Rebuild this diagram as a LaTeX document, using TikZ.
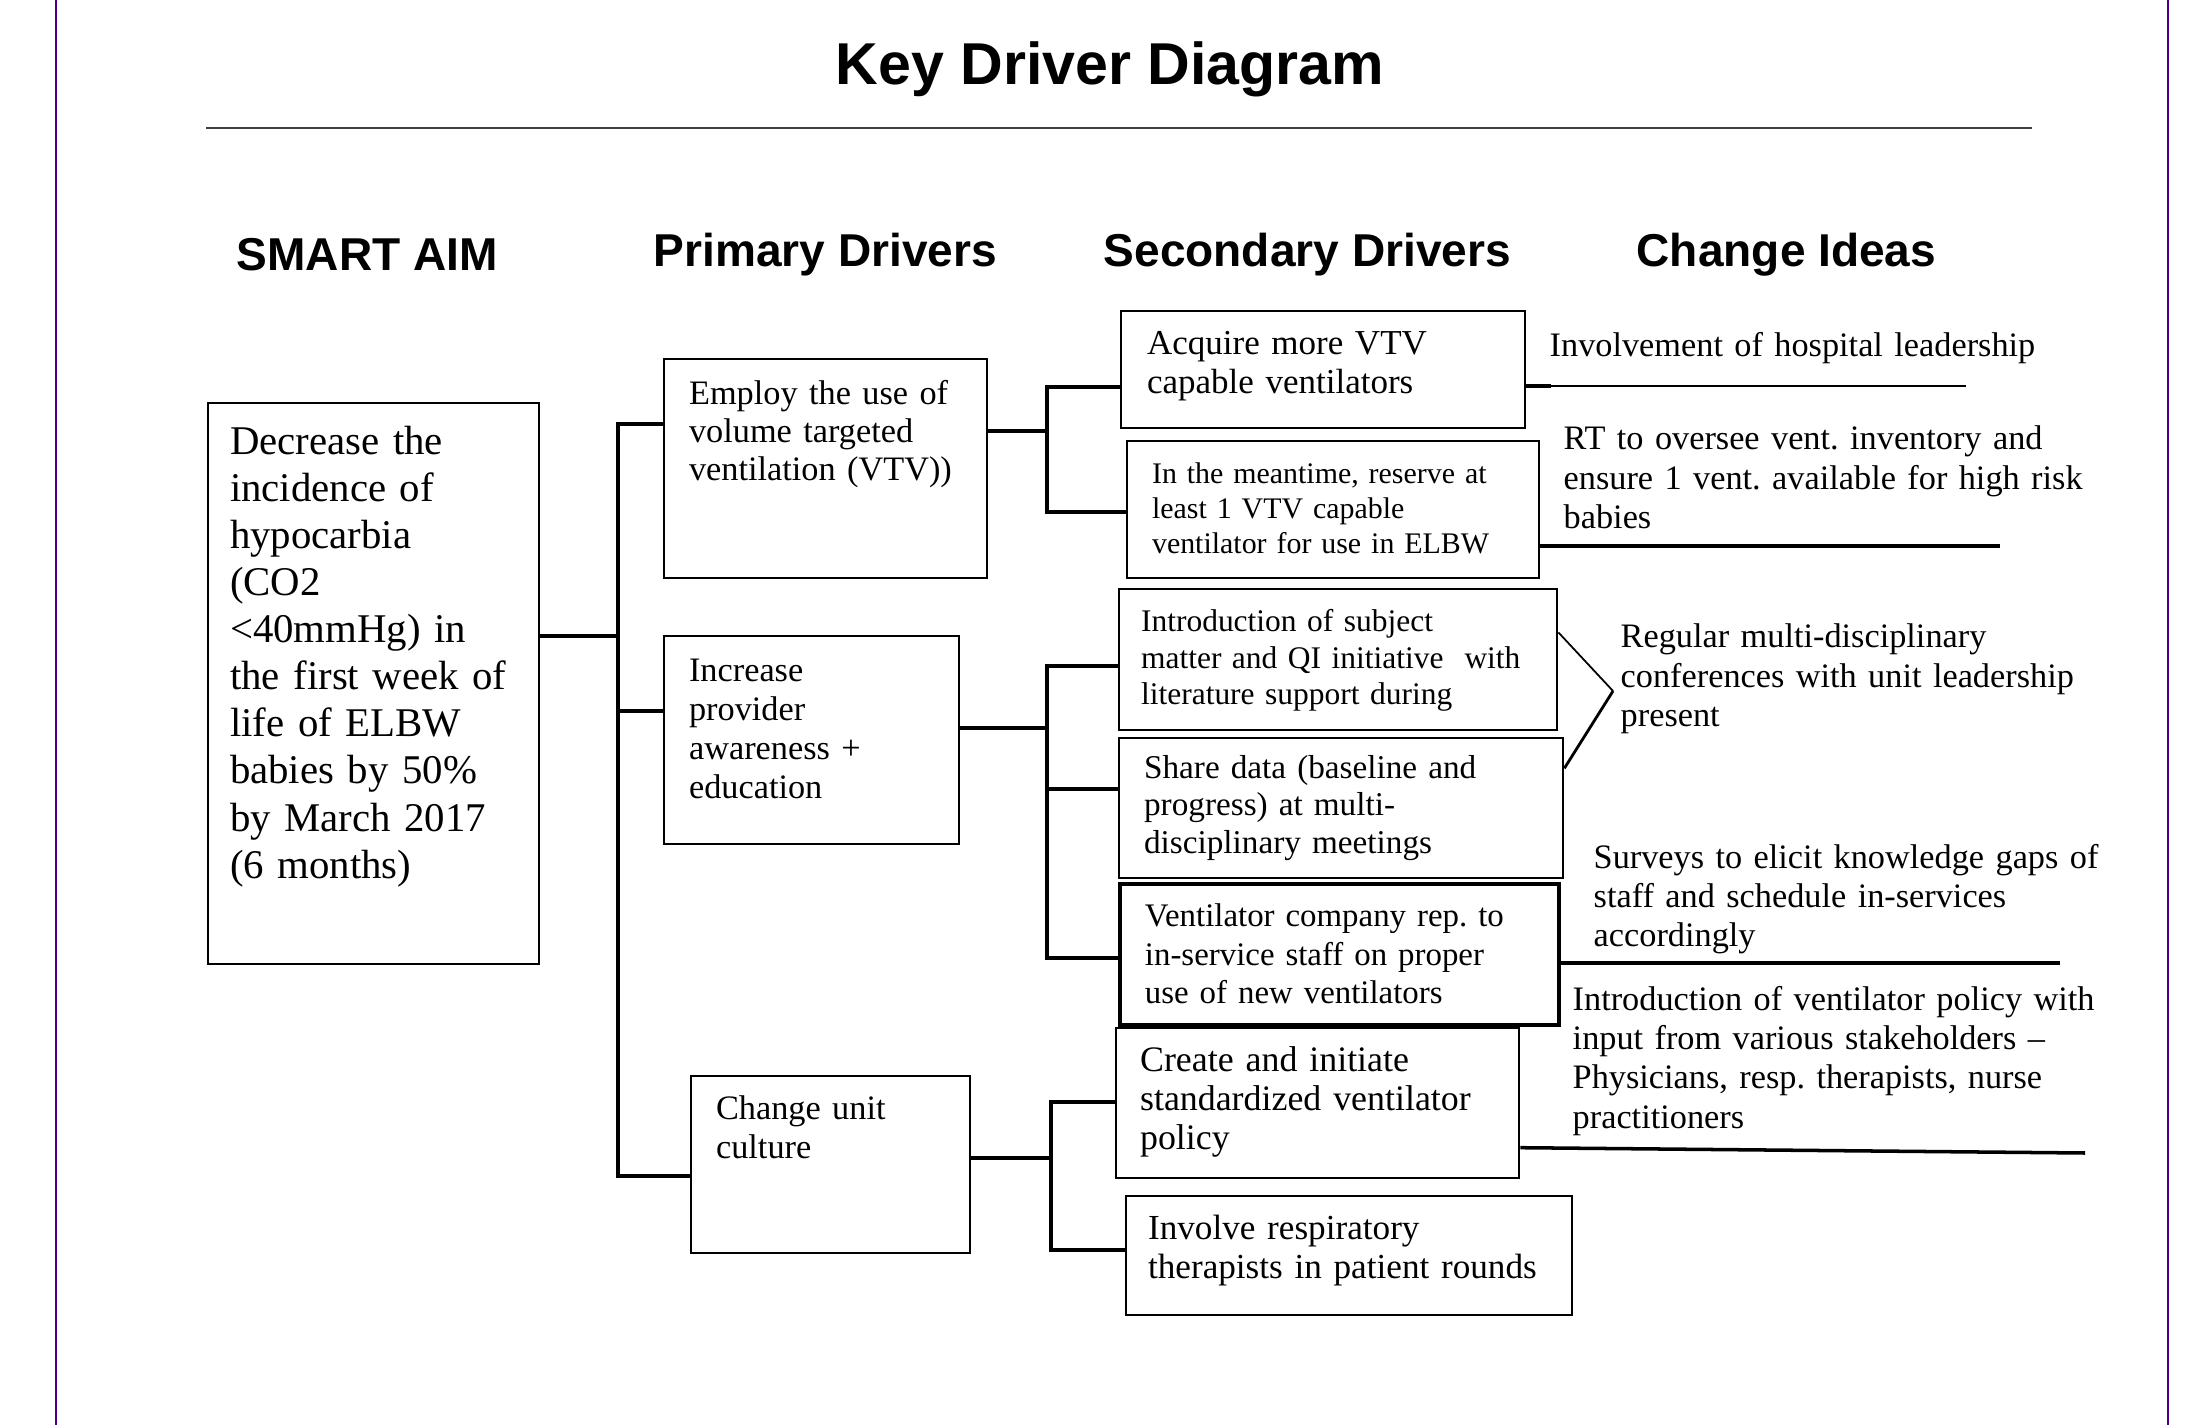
\documentclass[tikz,border=0pt]{standalone}
\usepackage{fontspec}
\setmainfont{Liberation Serif}
\newfontfamily\headfont{Liberation Sans}
\usetikzlibrary{positioning,calc}
\frenchspacing

\definecolor{edgepurple}{RGB}{75,0,140}

\tikzset{
  drvbox/.style={draw, rectangle, anchor=north west, align=left, inner ysep=0pt, line width=0.6pt},
  idea/.style={anchor=base west, inner sep=0pt, align=left, text width=6cm, font=\fontsize{9.75}{11.2}\selectfont},
  head/.style={anchor=base west, inner sep=0pt, font=\headfont\bfseries\fontsize{13.1}{15}\selectfont},
  conn/.style={line width=1pt},
  thinconn/.style={line width=0.6pt},
}

\begin{document}
\begin{tikzpicture}[x=0.01cm, y=-0.01cm]
\useasboundingbox (0,0) rectangle (2203,1425);

% page edges
\draw[edgepurple, line width=0.6pt] (56,0) -- (56,1425);
\draw[edgepurple, line width=0.6pt] (2168,0) -- (2168,1425);

% title and rule
\node[anchor=base, inner sep=0pt, font=\headfont\bfseries\fontsize{16.8}{20}\selectfont] (title) at (1110,85) {Key Driver Diagram};
\draw[black!75, line width=0.6pt] (206,128) -- (2032,128);

% column heads
\node[head] (h-aim) at (236,271) {SMART AIM};
\node[head] (h-prim) at (653,267) {Primary Drivers};
\node[head] (h-sec) at (1103,267) {Secondary Drivers};
\node[head] (h-idea) at (1636,267) {Change Ideas};

% aim
\node[drvbox, text width=2.87cm, inner xsep=0.22cm, text height=0.51cm, text depth=5.10cm,
      font=\fontsize{11.6}{13.4}\selectfont] (aim) at (207,402)
  {Decrease the\\ incidence of\\ hypocarbia\\ (CO2\\ <40mmHg) in\\ the first week of\\ life of ELBW\\ babies by 50\%\\ by March 2017\\ (6 months)};

% primary drivers
\node[drvbox, text width=2.73cm, inner xsep=0.25cm, text height=0.45cm, text depth=1.74cm,
      font=\fontsize{9.75}{10.8}\selectfont] (pd1) at (663,358)
  {Employ the use of\\ volume targeted\\ ventilation (VTV))};
\node[drvbox, text width=2.45cm, inner xsep=0.25cm, text height=0.45cm, text depth=1.63cm,
      font=\fontsize{9.75}{11.1}\selectfont] (pd2) at (663,635)
  {Increase\\ provider\\ awareness +\\ education};
\node[drvbox, text width=2.29cm, inner xsep=0.25cm, text height=0.43cm, text depth=1.34cm,
      font=\fontsize{9.75}{11.1}\selectfont] (pd3) at (690,1075)
  {Change unit\\ culture};

% secondary drivers
\node[drvbox, text width=3.52cm, inner xsep=0.26cm, text height=0.43cm, text depth=0.74cm,
      font=\fontsize{9.95}{11.1}\selectfont] (s1) at (1120,310)
  {Acquire more VTV\\ capable ventilators};
\node[drvbox, text width=3.62cm, inner xsep=0.25cm, text height=0.42cm, text depth=0.95cm,
      font=\fontsize{8.5}{9.96}\selectfont] (s2) at (1126,440)
  {In the meantime, reserve at\\ least 1 VTV capable\\ ventilator for use in ELBW};
\node[drvbox, text width=3.94cm, inner xsep=0.22cm, text height=0.42cm, text depth=0.99cm,
      font=\fontsize{8.95}{10.5}\selectfont] (s3) at (1118,588)
  {Introduction of subject\\ matter and QI initiative~ with\\ literature support during};
\node[drvbox, text width=3.94cm, inner xsep=0.25cm, text height=0.40cm, text depth=1.00cm,
      font=\fontsize{9.45}{10.7}\selectfont] (s4) at (1118,737)
  {Share data (baseline and\\ progress) at multi-\\ disciplinary meetings};
\node[drvbox, line width=1.1pt, text width=3.89cm, inner xsep=0.25cm, text height=0.43cm, text depth=0.98cm,
      font=\fontsize{9.35}{10.95}\selectfont] (s5) at (1118,882)
  {Ventilator company rep. to\\ in-service staff on proper\\ use of new ventilators};
\node[drvbox, text width=3.55cm, inner xsep=0.24cm, text height=0.43cm, text depth=1.07cm,
      font=\fontsize{10.2}{11.1}\selectfont] (s6) at (1115,1027)
  {Create and initiate\\ standardized ventilator\\ policy};
\node[drvbox, text width=4.02cm, inner xsep=0.22cm, text height=0.43cm, text depth=0.76cm,
      font=\fontsize{10}{11.1}\selectfont] (s7) at (1125,1195)
  {Involve respiratory\\ therapists in patient rounds};

% change ideas
\node[idea] (c1) at (1549,357) {Involvement of hospital leadership};
\node[idea] (c2) at (1563,450) {RT to oversee vent. inventory and\\ ensure 1 vent. available for high risk\\ babies};
\node[idea] (c3) at (1620,648) {Regular multi-disciplinary\\ conferences with unit leadership\\ present};
\node[idea] (c4) at (1593,868) {Surveys to elicit knowledge gaps of\\ staff and schedule in-services\\ accordingly};
\node[idea] (c5) at (1572,1010) {Introduction of ventilator policy with\\ input from various stakeholders --\\ Physicians, resp. therapists, nurse\\ practitioners};

% aim -> primary drivers
\coordinate (hub) at (618,636);
\coordinate (b1) at (618,424);
\coordinate (b2) at (618,711);
\coordinate (b3) at (618,1176);
\draw[conn] (aim.east |- hub) -- (hub);
\draw[conn] (pd1.west |- b1) -- (b1) -- (b3) -- (pd3.west |- b3);
\draw[conn] (b2) -- (pd2.west |- b2);

% primary -> secondary
\coordinate (g1) at (1047,431);
\coordinate (g1a) at (1047,387);
\coordinate (g1b) at (1047,512);
\draw[conn] (pd1.east |- g1) -- (g1);
\draw[conn] (s1.west |- g1a) -- (g1a) -- (g1b) -- (s2.west |- g1b);

\coordinate (g2) at (1047,728);
\coordinate (g2a) at (1047,666);
\coordinate (g2b) at (1047,789);
\coordinate (g2c) at (1047,958);
\draw[conn] (pd2.east |- g2) -- (g2);
\draw[conn] (s3.west |- g2a) -- (g2a) -- (g2c) -- (s5.west |- g2c);
\draw[conn] (g2b) -- (s4.west |- g2b);

\coordinate (g3) at (1051,1158);
\coordinate (g3a) at (1051,1102);
\coordinate (g3b) at (1051,1250);
\draw[conn] (pd3.east |- g3) -- (g3);
\draw[conn] (s6.west |- g3a) -- (g3a) -- (g3b) -- (s7.west |- g3b);

% secondary -> change ideas
\coordinate (u1) at (1966,386);
\coordinate (u2) at (2000,546);
\coordinate (tip3) at (1613,691);
\coordinate (u4) at (2060,963);
\coordinate (u5) at (2085,1153);
\draw[thinconn] (s1.east |- u1) -- (u1);
\draw[conn] (s1.east |- u1) -- ++(25,0);
\draw[conn] (s2.east |- u2) -- (u2);
\draw[line width=0.5pt] ($(s3.north east)!0.31!(s3.south east)$) -- (tip3);
\draw[line width=0.8pt] (tip3) -- ($(s4.north east)!0.22!(s4.south east)$);
\draw[conn] (s5.east |- u4) -- (u4);
\draw[conn] ($(s6.north east)!0.793!(s6.south east)$) -- (u5);
\end{tikzpicture}
\end{document}
